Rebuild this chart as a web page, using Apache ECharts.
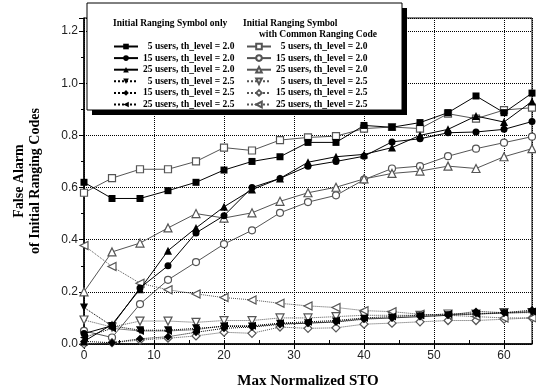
<!DOCTYPE html>
<html><head><meta charset="utf-8">
<script src="https://cdn.jsdelivr.net/npm/echarts@6/dist/echarts.min.js"></script>
<style>html,body{margin:0;padding:0;background:#fff}#c{width:536px;height:389px}</style>
</head><body><div id="c"></div>
<script>
// ---- data ----
const xValues = [0, 4, 8, 12, 16, 20, 24, 28, 32, 36, 40, 44, 48, 52, 56, 60, 64];

// Initial Ranging Symbol only
const only5u20  = [0.62, 0.558, 0.558, 0.588, 0.62, 0.667, 0.70, 0.718, 0.773, 0.773, 0.838, 0.831, 0.849, 0.887, 0.951, 0.887, 0.962];
const only15u20 = [0.04, 0.07, 0.215, 0.30, 0.426, 0.492, 0.60, 0.635, 0.682, 0.70, 0.72, 0.775, 0.787, 0.81, 0.813, 0.823, 0.853];
const only25u20 = [0.01, 0.075, 0.21, 0.358, 0.445, 0.526, 0.592, 0.635, 0.697, 0.718, 0.727, 0.753, 0.80, 0.823, 0.874, 0.851, 0.93];
const only5u25  = [0.14, 0.069, 0.053, 0.053, 0.06, 0.067, 0.067, 0.078, 0.08, 0.086, 0.097, 0.10, 0.105, 0.11, 0.115, 0.118, 0.122];
const only15u25 = [0.01, 0.005, 0.02, 0.028, 0.045, 0.06, 0.065, 0.075, 0.08, 0.084, 0.095, 0.10, 0.105, 0.11, 0.125, 0.12, 0.13];
const only25u25 = [0.025, 0.06, 0.05, 0.05, 0.055, 0.07, 0.07, 0.08, 0.085, 0.09, 0.10, 0.105, 0.11, 0.115, 0.115, 0.12, 0.125];

// Initial Ranging Symbol with Common Ranging Code
const crc5u20  = [0.58, 0.636, 0.67, 0.67, 0.70, 0.753, 0.742, 0.782, 0.792, 0.797, 0.826, 0.832, 0.826, 0.883, 0.864, 0.897, 0.906];
const crc15u20 = [0.05, 0.025, 0.153, 0.246, 0.314, 0.383, 0.436, 0.503, 0.544, 0.570, 0.63, 0.673, 0.682, 0.72, 0.749, 0.772, 0.795];
const crc25u20 = [0.20, 0.353, 0.387, 0.445, 0.50, 0.483, 0.503, 0.547, 0.58, 0.601, 0.633, 0.654, 0.663, 0.682, 0.673, 0.718, 0.749];
const crc5u25  = [0.092, 0.065, 0.088, 0.088, 0.083, 0.09, 0.09, 0.10, 0.10, 0.105, 0.11, 0.11, 0.11, 0.115, 0.115, 0.12, 0.12];
const crc15u25 = [0.0, 0.005, 0.015, 0.022, 0.031, 0.045, 0.041, 0.065, 0.06, 0.062, 0.076, 0.08, 0.085, 0.09, 0.09, 0.095, 0.10];
const crc25u25 = [0.378, 0.297, 0.233, 0.208, 0.192, 0.178, 0.169, 0.156, 0.146, 0.14, 0.128, 0.124, 0.114, 0.11, 0.105, 0.10, 0.10];

const entryLabels = ['  5 users, th_level = 2.0', '15 users, th_level = 2.0', '25 users, th_level = 2.0',
                     '  5 users, th_level = 2.5', '15 users, th_level = 2.5', '25 users, th_level = 2.5'];
const headerLeft = 'Initial Ranging Symbol only';
const headerRight1 = 'Initial Ranging Symbol';
const headerRight2 = 'with Common Ranging Code';
const xTitle = 'Max Normalized STO';
const yTitle = 'False Alarm\nof Initial Ranging Codes';

// ---- chart ----
const SERIF = '"Liberation Serif", "Times New Roman", serif';
const DOWN = 'path://M0,0L10,0L5,9Z';
const LEFT = 'path://M9,0L9,10L0,5Z';
const mk = (id, vals, symbol, filled, dotted, size) => ({
  id: id, name: id, type: 'line',
  data: xValues.map((x, i) => [x, vals[i]]),
  symbol: symbol, symbolSize: size || 7,
  showAllSymbol: true,
  lineStyle: { color: filled ? '#000' : '#555', width: 1, type: dotted ? 'dotted' : 'solid' },
  itemStyle: filled ? { color: '#000', borderWidth: 0 } : { color: '#fff', borderColor: '#555', borderWidth: 1.2 },
  emphasis: { disabled: true },
  z: filled ? 3 : 2
});
const seriesList = [
  mk('L1', only5u20, 'rect', true, false, 7),
  mk('L2', only15u20, 'circle', true, false, 7),
  mk('L3', only25u20, 'triangle', true, false, 8),
  mk('L4', only5u25, DOWN, true, true, 8),
  mk('L5', only15u25, 'diamond', true, true, 8),
  mk('L6', only25u25, LEFT, true, true, 8),
  mk('R1', crc5u20, 'rect', false, false, 7),
  mk('R2', crc15u20, 'circle', false, false, 7),
  mk('R3', crc25u20, 'triangle', false, false, 8),
  mk('R4', crc5u25, DOWN, false, true, 8),
  mk('R5', crc15u25, 'diamond', false, true, 8),
  mk('R6', crc25u25, LEFT, false, true, 8)
];
const labelOf = name => entryLabels[Number(name.slice(1)) - 1];
const legendBase = {
  orient: 'vertical', itemWidth: 24, itemHeight: 7, itemGap: 1.6, padding: 0,
  selectedMode: false, z: 20,
  textStyle: { fontFamily: SERIF, fontWeight: 'bold', fontSize: 9.5, color: '#000', lineHeight: 10 },
  formatter: labelOf
};

const chart = echarts.init(document.getElementById('c'), null, { renderer: 'canvas' });
chart.setOption({
  animation: false,
  backgroundColor: '#fff',
  grid: { left: 84, right: 4, top: 18, bottom: 45, show: true, borderColor: '#000', borderWidth: 1,
          containLabel: false, outerBoundsMode: 'none' },
  legend: [
    Object.assign({}, legendBase, { left: 113, top: 41.5, data: ['L1','L2','L3','L4','L5','L6'] }),
    Object.assign({}, legendBase, { left: 246, top: 41.5, data: ['R1','R2','R3','R4','R5','R6'] })
  ],
  graphic: [
    { type: 'rect', z: 15, shape: { x: 92, y: 8, width: 315, height: 107 }, style: { fill: '#000' } },
    { type: 'rect', z: 16, shape: { x: 87, y: 3, width: 315, height: 107 }, style: { fill: '#fff', stroke: '#000', lineWidth: 1 } },
    { type: 'text', z: 21, left: 113, top: 19, style: { text: headerLeft, font: 'bold 9.5px ' + SERIF, fill: '#000' } },
    { type: 'text', z: 21, left: 243, top: 19, style: { text: headerRight1, font: 'bold 9.5px ' + SERIF, fill: '#000' } },
    { type: 'text', z: 21, left: 259, top: 30, style: { text: headerRight2, font: 'bold 9.5px ' + SERIF, fill: '#000' } }
  ],
  xAxis: [{
    type: 'value', min: 0, max: 64, interval: 10,
    name: xTitle, nameLocation: 'middle', nameGap: 30,
    nameTextStyle: { fontFamily: SERIF, fontWeight: 'bold', fontSize: 15, color: '#000' },
    axisLine: { show: true, onZero: false, lineStyle: { color: '#000', width: 1.5 } },
    axisTick: { show: true, length: 5, lineStyle: { color: '#000' } },
    axisLabel: { fontFamily: '"Liberation Sans", Arial, sans-serif', fontSize: 12, color: '#222', margin: 6, showMaxLabel: false },
    splitLine: { show: true, lineStyle: { color: '#000', type: 'dotted', width: 1 } }
  }, {
    type: 'value', min: 0, max: 64, interval: 5, position: 'bottom',
    axisLine: { show: false }, axisLabel: { show: false }, splitLine: { show: false },
    axisTick: { show: true, inside: true, length: 4, lineStyle: { color: '#000' } }
  }],
  yAxis: {
    type: 'value', min: 0, max: 1.25, interval: 0.2,
    name: yTitle, nameLocation: 'middle', nameGap: 41, nameRotate: 90,
    nameTextStyle: { fontFamily: SERIF, fontWeight: 'bold', fontSize: 14, color: '#000', lineHeight: 16 },
    axisLine: { show: true, onZero: false, lineStyle: { color: '#000', width: 1.5 } },
    axisTick: { show: true, length: 5, lineStyle: { color: '#000' } },
    minorTick: { show: true, splitNumber: 2, length: 3, lineStyle: { color: '#000' } },
    axisLabel: { fontFamily: '"Liberation Sans", Arial, sans-serif', fontSize: 12, color: '#222', margin: 6, showMaxLabel: false,
      formatter: v => v.toFixed(1) },
    splitLine: { show: true, lineStyle: { color: '#000', type: 'dotted', width: 1 } }
  },
  series: seriesList
});
</script></body></html>
